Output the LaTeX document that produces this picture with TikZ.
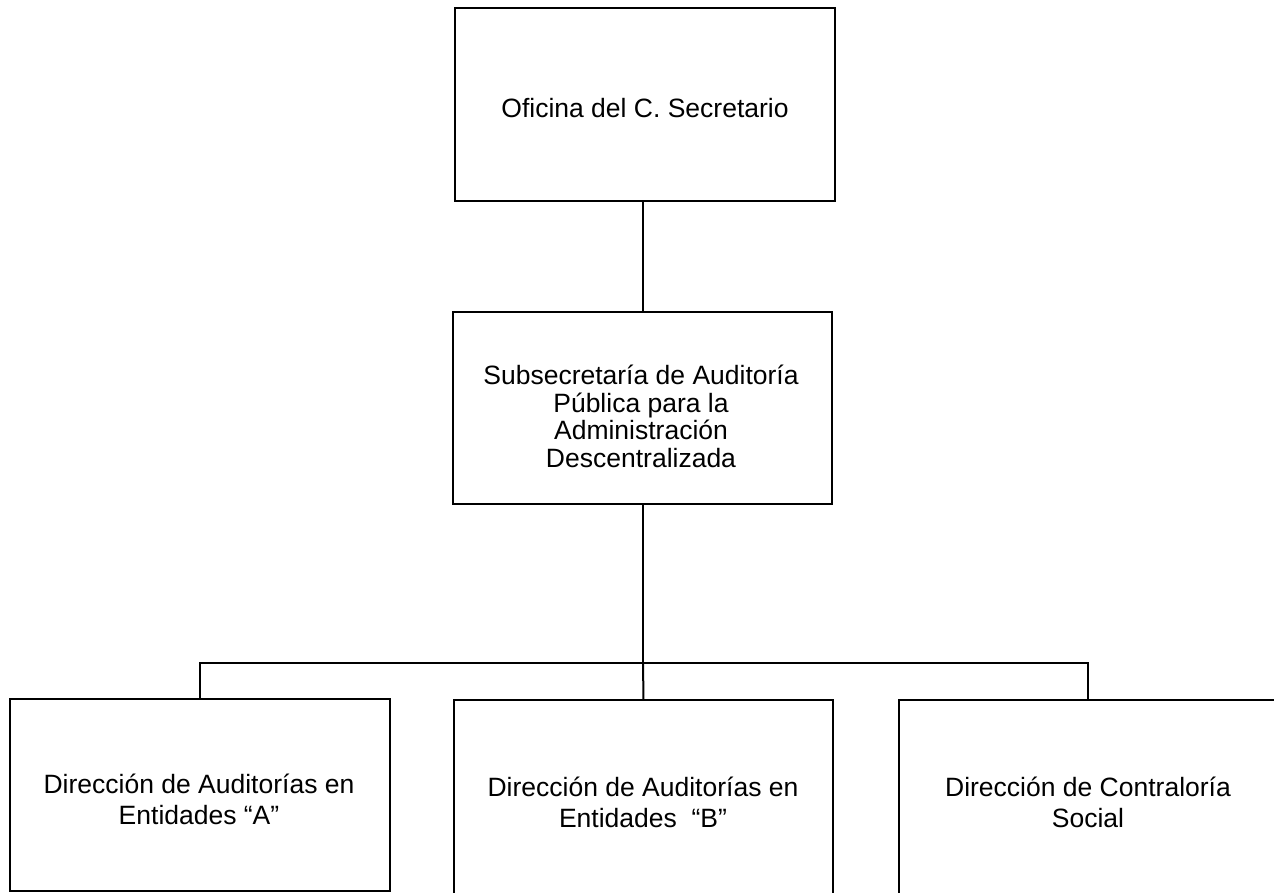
\documentclass[tikz,border=0pt]{standalone}
\usepackage{fontspec}
\setmainfont{Liberation Sans}
\begin{document}
\begin{tikzpicture}[x=1pt,y=-1pt,
  unit/.style={draw=black, line width=2pt, inner sep=0pt, outer sep=0pt},
  txt/.style={font=\fontsize{26.5}{27.4}\selectfont, align=center, inner sep=0pt},
  txtlow/.style={font=\fontsize{26.5}{31}\selectfont, align=center, inner sep=0pt},
  link/.style={draw=black, line width=2pt}]
\useasboundingbox (0,0) rectangle (1274,893);
\clip (0,0) rectangle (1274,893);

% boxes
\node[unit, minimum width=380pt, minimum height=193pt] (sec)  at (645,104.5) {};
\node[unit, minimum width=379pt, minimum height=192pt] (sub)  at (642.5,408) {};
\node[unit, minimum width=380pt, minimum height=192pt] (dirA) at (200,795) {};
\node[unit, minimum width=379pt, minimum height=196pt] (dirB) at (643.5,798) {};
\node[unit, minimum width=378pt, minimum height=196pt] (dirC) at (1088,798) {};

% texts
\node[txt] (secT) at (645,108.3) {Oficina del C. Secretario};
\node[txt] (subT) at (641,416.3) {Subsecretaría de Auditoría\\Pública para la\\Administración\\Descentralizada};
\node[txtlow] (dirAT) at (199,799) {Dirección de Auditorías en\\Entidades “A”};
\node[txtlow] (dirBT) at (643,802.5) {Dirección de Auditorías en\\Entidades~~“B”};
\node[txtlow] (dirCT) at (1088,802.5) {Dirección de Contraloría\\Social};

% connectors
\coordinate (bus) at (643,663);
\draw[link] (sec.south -| bus) -- (sub.north -| bus);
\draw[link] (sub.south -| bus) -- (bus);
\draw[link] (dirA.north) -- (dirA.north |- bus) -- (dirC.north |- bus) -- (dirC.north);
\draw[link] (bus) -- (dirB.north);
\end{tikzpicture}
\end{document}
